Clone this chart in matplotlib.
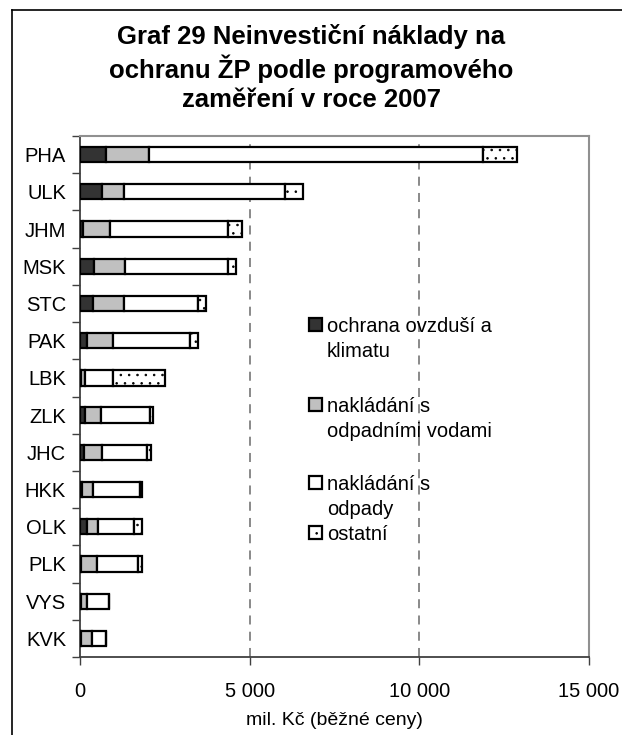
import matplotlib.pyplot as plt
from matplotlib.patches import Rectangle
import numpy as np

plt.rcParams['font.family'] = ['Liberation Sans', 'DejaVu Sans']
plt.rcParams['hatch.color'] = '#555555'
plt.rcParams['hatch.linewidth'] = 0.6

# data (mil. Kč)
kraje = ['PHA', 'ULK', 'JHM', 'MSK', 'STC', 'PAK', 'LBK',
         'ZLK', 'JHC', 'HKK', 'OLK', 'PLK', 'VYS', 'KVK']
ovzdusi = [760, 660, 100, 420, 370, 200, 30, 140, 110, 60, 200, 40, 40, 20]
vody = [1270, 645, 780, 900, 930, 760, 120, 490, 540, 330, 340, 450, 160, 320]
odpady = [9860, 4725, 3480, 3040, 2180, 2295, 830, 1420, 1330, 1370, 1050, 1230, 650, 420]
ostatni = [980, 540, 420, 245, 245, 225, 1520, 100, 100, 80, 225, 110, 10, 10]

serie = [ovzdusi, vody, odpady, ostatni]
nazvy = ['ochrana ovzduší a\nklimatu', 'nakládání s\nodpadními vodami',
         'nakládání s\nodpady', 'ostatní']
barvy = ['#333333', '#c0c0c0', 'white', 'white']
srafy = [None, None, None, '..']

xticks = [0, 5000, 10000, 15000]
xlabels = ['0', '5 000', '10 000', '15 000']

fs = 14.5

fig = plt.figure(figsize=(6.22, 7.35), dpi=100)
ax = fig.add_axes([80/622, 1-657/735, 509/622, 521/735])

y = np.arange(len(kraje))
left = np.zeros(len(kraje))
for vals, c, h in zip(serie, barvy, srafy):
    ax.barh(y, vals, left=left, height=0.41, color=c, edgecolor='black',
            linewidth=1.6, hatch=h, zorder=3)
    left += np.array(vals)

ax.set_ylim(len(kraje) - 0.5, -0.5)
ax.set_xlim(0, 15000)
ax.set_yticks(y)
ax.set_yticklabels(kraje, fontsize=fs)
ax.set_yticks(np.arange(len(kraje) + 1) - 0.5, minor=True)
ax.tick_params(axis='y', which='major', length=0, pad=10)
ax.tick_params(axis='y', which='minor', length=6, width=1, color='#404040')
ax.set_xticks(xticks)
ax.set_xticklabels(xlabels, fontsize=fs)
ax.tick_params(axis='x', length=6, width=1, color='#404040', pad=12)
ax.set_xlabel('mil. Kč (běžné ceny)', fontsize=fs - 0.5, labelpad=8)

for xv in xticks[1:3]:
    ax.axvline(xv, color='#808080', linestyle=(0, (5, 4)), linewidth=1.3, zorder=1)

for s in ['left', 'bottom']:
    ax.spines[s].set_color('#404040')
    ax.spines[s].set_linewidth(1.3)
for s in ['top', 'right']:
    ax.spines[s].set_color('#909090')
    ax.spines[s].set_linewidth(1.5)

# legend drawn by hand to keep handles at the first text line
leg_y = [325, 405, 483, 533]
for name, c, h, yy in zip(nazvy, barvy, srafy, leg_y):
    fig.patches.append(Rectangle((309/622, 1-(yy+6)/735), 13/622, 13/735,
                                 transform=fig.transFigure, facecolor=c,
                                 edgecolor='black', linewidth=1.6, hatch=h))
    fig.text(327/622, 1-(yy-8)/735, name, fontsize=fs, va='top',
             ha='left', linespacing=1.4)

fig.text(311/622, 1-68/735,
         'Graf 29 Neinvestiční náklady na\nochranu ŽP podle programového\nzaměření v roce 2007',
         fontsize=18.5, fontweight='bold', ha='center', va='center', linespacing=1.25)

# frame of the chart area
fig.add_artist(plt.Line2D([12/622, 12/622], [0, 1-10/735], color='black', lw=1.2))
fig.add_artist(plt.Line2D([12/622, 1], [1-10/735, 1-10/735], color='black', lw=1.2))

fig.savefig('out.png', dpi=100)
